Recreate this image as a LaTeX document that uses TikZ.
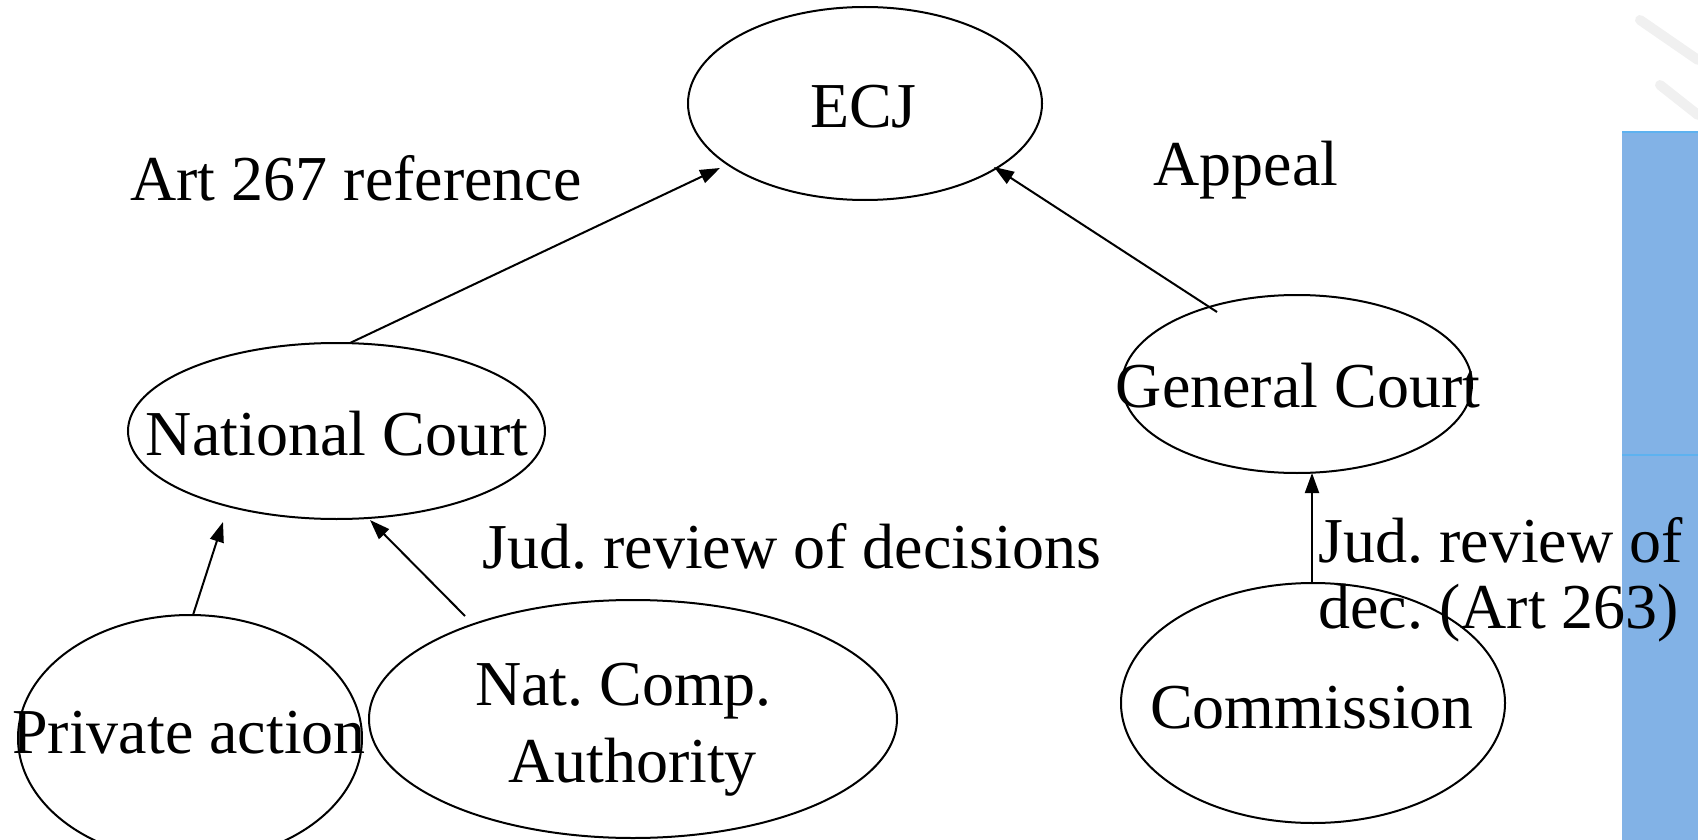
\documentclass[tikz,border=0pt]{standalone}
\usepackage{fontspec}
\setmainfont{Liberation Serif}
\usetikzlibrary{arrows.meta,calc,shapes.geometric}
\definecolor{panelblue}{HTML}{82B2E6}
\definecolor{panelline}{HTML}{5DB2F0}
\definecolor{wmgray}{HTML}{F0F0F0}
\frenchspacing
\begin{document}
\begin{tikzpicture}[x=0.5pt,y=-0.5pt,
  court/.style={draw=black,line width=1pt,ellipse,inner sep=0pt},
  lbl/.style={inner sep=0pt,font=\fontsize{32pt}{38.4pt}\selectfont},
  link/.style={draw=black,line width=1pt,-{Triangle[length=10pt,width=7pt]}}]
\useasboundingbox (0,0) rectangle (1698,840);
\clip (0,0) rectangle (1698,840);
% background panel at the right
\fill[panelblue] (1622,132) rectangle (1698,840);
\draw[panelline,line width=0.6pt] (1622,132) -- (1698,132);
\draw[panelline,line width=0.6pt] (1622,455) -- (1698,455);
\draw[wmgray,line width=5pt,line cap=round] (1640,20) -- (1698,60);
\draw[wmgray,line width=5pt,line cap=round] (1660,85) -- (1698,115);
% ellipses
\node[court,minimum width=177pt,minimum height=96.5pt] (ecj) at (865,103.5) {};
\node[court,minimum width=208.5pt,minimum height=88pt] (nc) at (336.5,431) {};
\node[court,minimum width=175pt,minimum height=89pt] (gc) at (1297,384) {};
\node[court,minimum width=172pt,minimum height=123pt] (pa) at (190,738) {};
\node[court,minimum width=264pt,minimum height=119pt] (nca) at (633,719) {};
\node[court,minimum width=192pt,minimum height=120pt] (com) at (1313,703) {};
% texts in the ellipses
\node[lbl,anchor=base] (ecjt) at (863.5,127) {ECJ};
\node[lbl,anchor=base] (nct) at (337,455) {National Court};
\node[lbl,anchor=base] (gct) at (1298,407) {General Court};
\node[lbl,anchor=base] (pat) at (189,753) {Private action};
\node[lbl,anchor=base] (ncat1) at (623.5,705) {Nat. Comp.};
\node[lbl,anchor=base] (ncat2) at (632.5,782) {Authority};
\node[lbl,anchor=base] (comt) at (1312,728) {Commission};
% free labels
\node[lbl,anchor=base west] (l267) at (130,200) {Art 267 reference};
\node[lbl,anchor=base west] (lapp) at (1153,185) {Appeal};
\node[lbl,anchor=base west] (ljud) at (482,568) {Jud. review of decisions};
\node[lbl,anchor=base west] (ljud2a) at (1318,562) {Jud. review of};
\node[lbl,anchor=base west] (ljud2b) at (1318,628) {dec. (Art 263)};
% connectors
\draw[link] ($(nc.center)+(13.5,-88)$) -- ($(ecj.center)+(-145,64.5)$);
\draw[link] ($(gc.center)+(-80,-72)$) -- ($(ecj.center)+(129,63.5)$);
\draw[link] ($(pa.center)+(3,-123)$) -- ($(nc.center)+(-113.5,91)$);
\draw[link] ($(nca.center)+(-168,-103)$) -- ($(nc.center)+(33.5,89)$);
\draw[link] ($(com.center)+(-1,-120)$) -- ($(gc.center)+(15,89)$);
\end{tikzpicture}
\end{document}
